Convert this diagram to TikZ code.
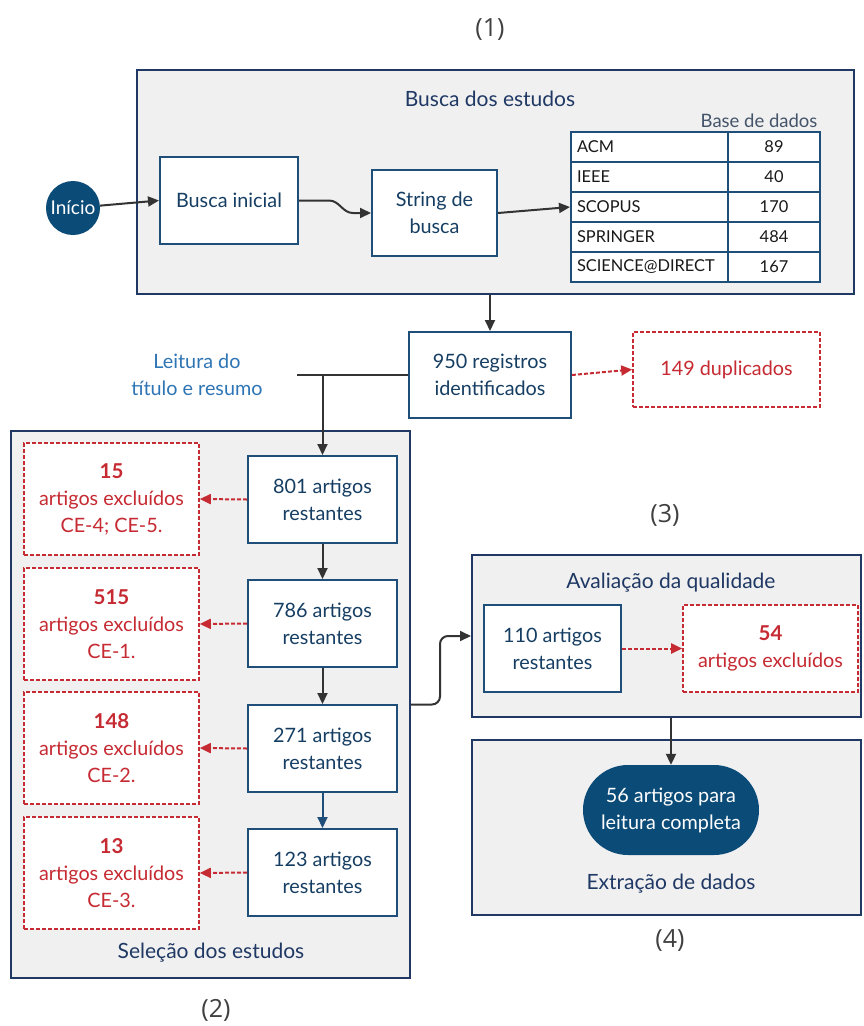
\documentclass[tikz,border=0pt]{standalone}
\usepackage{fontspec}
\setmainfont{Lato}
\newfontfamily\numfont{Open Sans}
\usetikzlibrary{arrows.meta,positioning,calc}
\definecolor{navy}{HTML}{1F3864}
\definecolor{teal}{HTML}{1F4E79}
\definecolor{txtb}{HTML}{163E63}
\definecolor{redc}{HTML}{C62A32}
\definecolor{grayf}{HTML}{F0F0F0}
\definecolor{arrc}{HTML}{333333}
\definecolor{blu}{HTML}{2E75B6}
\definecolor{startc}{HTML}{0B4B78}
\definecolor{lblc}{HTML}{404040}
\definecolor{basec}{HTML}{44546A}
\tikzset{
  every node/.style={font=\fontsize{19.8}{27}\selectfont},
  group/.style={draw=navy, fill=grayf, line width=2pt, inner sep=0pt},
  stepbox/.style={draw=teal, fill=white, line width=2pt, align=center, text=txtb, inner sep=0pt},
  redbox/.style={draw=redc, fill=white, line width=1.6pt, dash pattern=on 4pt off 2pt, align=center, text=redc, inner sep=0pt},
  cellL/.style={draw=teal, fill=white, line width=2pt, minimum width=157pt, minimum height=30pt, text width=145pt, inner xsep=6pt, inner ysep=0pt, align=left, font=\fontsize{16.4}{18}\selectfont, text=black!90},
  cellR/.style={draw=teal, fill=white, line width=2pt, minimum width=92pt, minimum height=30pt, inner sep=0pt, align=center, font=\fontsize{16.4}{18}\selectfont, text=black!90},
  arr/.style={draw=arrc, line width=2pt, -{Triangle[length=11pt,width=10pt]}},
  redarr/.style={draw=redc, line width=2pt, dash pattern=on 4pt off 2pt, -{Triangle[length=11pt,width=10pt]}},
  title/.style={text=navy, font=\fontsize{21}{27}\selectfont},
  numlbl/.style={text=lblc, font=\numfont\fontsize{25}{28}\selectfont},
}
\begin{document}
\begin{tikzpicture}[x=1pt,y=-1pt]
\useasboundingbox[fill=white] (0,0) rectangle (863,1026);

% labels
\node[numlbl] (l1) at (490,30) {(1)};
\node[numlbl] (l2) at (216,1010) {(2)};
\node[numlbl] (l3) at (665,515) {(3)};
\node[numlbl] (l4) at (670,940) {(4)};

% group boxes
\node[group, minimum width=717pt, minimum height=224pt] (g1) at (495.5,182) {};
\node[group, minimum width=399pt, minimum height=547pt] (g2) at (210.5,704.5) {};
\node[group, minimum width=389pt, minimum height=162pt] (g3) at (666.5,636) {};
\node[group, minimum width=389pt, minimum height=175pt] (g4) at (666.5,827.5) {};

\node[title] (t1) at (490,99) {Busca dos estudos};
\node[title] (t2) at (211,953) {Seleção dos estudos};
\node[title] (t3) at (671,583) {Avaliação da qualidade};
\node[title] (t4) at (671,884) {Extração de dados};

% search
\node[circle, fill=startc, text=white, minimum size=54pt, inner sep=0pt, font=\fontsize{19}{27}\selectfont] (start) at (73,208) {Início};
\node[stepbox, minimum width=138pt, minimum height=87pt] (bi) at (229,200.5) {Busca inicial};
\node[stepbox, minimum width=125pt, minimum height=86pt] (sb) at (434.5,213) {String de\\busca};

% table
\node[text=basec, anchor=east, font=\fontsize{18.5}{22}\selectfont] (base) at (821,121) {Base de dados};
\node[cellL] (c1a) at (649.5,147) {ACM};
\node[cellR] (c1b) at (774,147) {89};
\node[cellL] (c2a) at (649.5,177) {IEEE};
\node[cellR] (c2b) at (774,177) {40};
\node[cellL] (c3a) at (649.5,207) {SCOPUS};
\node[cellR] (c3b) at (774,207) {170};
\node[cellL] (c4a) at (649.5,237) {SPRINGER};
\node[cellR] (c4b) at (774,237) {484};
\node[cellL] (c5a) at (649.5,267) {SCIENCE@DIRECT};
\node[cellR] (c5b) at (774,267) {167};

\draw[arr] (start) -- (bi.west);
\draw[arr] (bi.east) -- ++(30,0) to[out=0,in=180] ([xshift=-18pt]sb.west) -- (sb.west);
\draw[arr] (sb.east) -- (c3a.west);

% identification
\node[stepbox, minimum width=162pt, minimum height=86pt] (n950) at (490,375) {950 registros\\identificados};
\node[redbox, minimum width=187pt, minimum height=75pt] (dup) at (726.5,369.5) {149 duplicados};
\draw[arr] (n950.north |- g1.south) -- (n950.north);
\draw[redarr] (n950.east) -- (dup.west);

\node[text=blu, align=center] (leit) at (197,375) {Leitura do\\título e resumo};

% selection
\node[stepbox, minimum width=149pt, minimum height=87pt] (s1) at (322.5,499.5) {801 artigos\\restantes};
\node[stepbox, minimum width=149pt, minimum height=87pt] (s2) at (322.5,623.5) {786 artigos\\restantes};
\node[stepbox, minimum width=149pt, minimum height=87pt] (s3) at (322.5,748.5) {271 artigos\\restantes};
\node[stepbox, minimum width=149pt, minimum height=87pt] (s4) at (322.5,872.5) {123 artigos\\restantes};

\node[redbox, minimum width=175pt, minimum height=112pt] (r1) at (111.5,499) {\textbf{\fontsize{20.5}{27}\selectfont 15}\\artigos excluídos\\CE-4; CE-5.};
\node[redbox, minimum width=175pt, minimum height=112pt] (r2) at (111.5,624) {\textbf{\fontsize{20.5}{27}\selectfont 515}\\artigos excluídos\\CE-1.};
\node[redbox, minimum width=175pt, minimum height=112pt] (r3) at (111.5,748) {\textbf{\fontsize{20.5}{27}\selectfont 148}\\artigos excluídos\\CE-2.};
\node[redbox, minimum width=175pt, minimum height=112pt] (r4) at (111.5,873) {\textbf{\fontsize{20.5}{27}\selectfont 13}\\artigos excluídos\\CE-3.};

\coordinate (stub) at (297,375);
\draw[draw=arrc, line width=2pt] (n950.west) -- (stub);
\draw[arr] (s1.north |- n950.west) -- (s1.north);
\draw[arr] (s1) -- (s2);
\draw[arr] (s2) -- (s3);
\draw[arr, draw=teal] (s3) -- (s4);

\draw[redarr] (s1.west) -- (r1.east);
\draw[redarr] (s2.west) -- (r2.east);
\draw[redarr] (s3.west) -- (r3.east);
\draw[redarr] (s4.west) -- (r4.east);

% quality
\node[stepbox, minimum width=137pt, minimum height=87pt] (q1) at (552.5,648.5) {110 artigos\\restantes};
\node[redbox, minimum width=175pt, minimum height=87pt] (q2) at (770.5,648.5) {\textbf{\fontsize{20.5}{27}\selectfont 54}\\artigos excluídos};
\draw[redarr] (q1.east) -- (q2.west);
\draw[arr, rounded corners=8pt] (g2.east) -- (440,704.5) |- (g3.west);

% extraction
\node[fill=startc, text=white, align=center, minimum width=176pt, minimum height=90pt, rounded corners=45pt, inner sep=0pt] (n56) at (671,810) {56 artigos para\\leitura completa};
\draw[arr] (n56.north |- g3.south) -- (n56.north);
\end{tikzpicture}
\end{document}
